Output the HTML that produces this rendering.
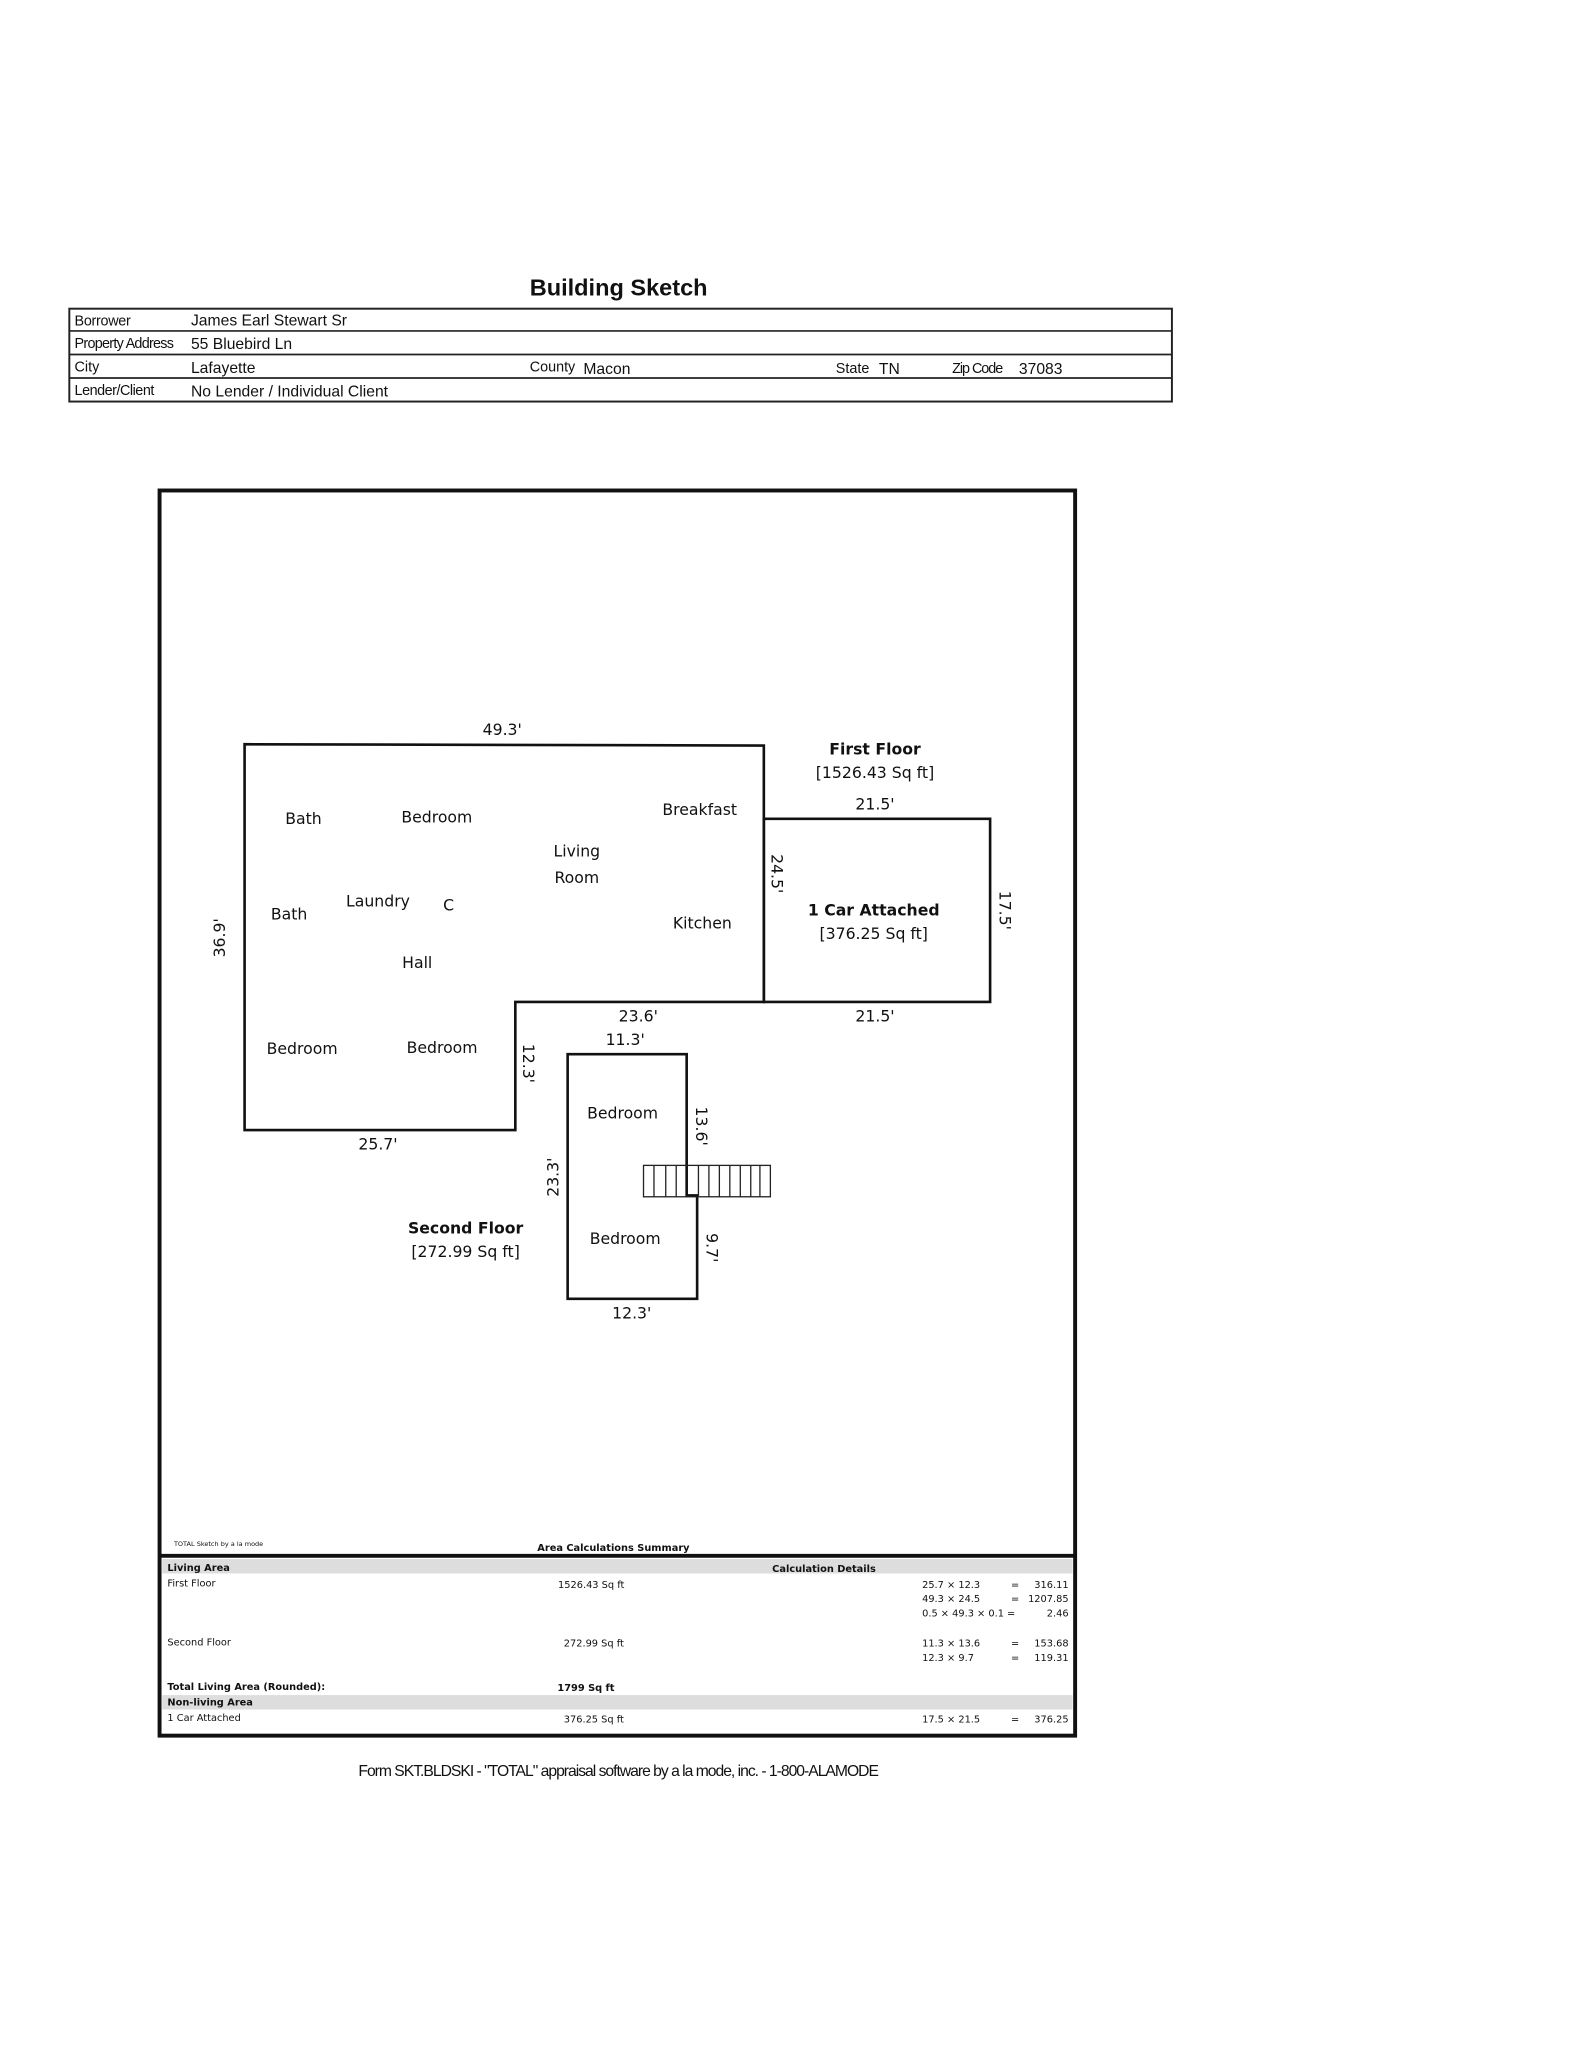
<!DOCTYPE html>
<html><head><style>html,body{margin:0;padding:0;background:#fff}svg{display:block}</style></head>
<body>
<svg width="1583" height="2048" viewBox="0 0 1210.3 1565.8" xmlns="http://www.w3.org/2000/svg">
<rect width="1210.3" height="1565.8" fill="#fff"/>
<g font-family="Liberation Sans, sans-serif" fill="#111">
<text x="473" y="226" font-size="18" font-weight="bold" text-anchor="middle">Building Sketch</text>
</g>
<g stroke="#222" fill="none">
<rect x="53" y="236" width="843" height="71" stroke-width="1.5"/>
<line x1="53" y1="253" x2="896" y2="253" stroke-width="1.3"/>
<line x1="53" y1="271" x2="896" y2="271" stroke-width="1.3"/>
<line x1="53" y1="289" x2="896" y2="289" stroke-width="1.3"/>
</g>
<g font-family="Liberation Sans, sans-serif" fill="#111" font-size="12">
<text x="57" y="249" font-size="11" textLength="43">Borrower</text>
<text x="146" y="249">James Earl Stewart Sr</text>
<text x="57" y="266" font-size="11" textLength="76">Property Address</text>
<text x="146" y="267">55 Bluebird Ln</text>
<text x="57" y="284" font-size="11">City</text>
<text x="146" y="285">Lafayette</text>
<text x="405" y="284" font-size="11">County</text>
<text x="446" y="286">Macon</text>
<text x="639" y="285" font-size="11">State</text>
<text x="672" y="286">TN</text>
<text x="728" y="285" font-size="11" textLength="39">Zip Code</text>
<text x="779" y="286">37083</text>
<text x="57" y="302" font-size="11" textLength="61">Lender/Client</text>
<text x="146" y="303">No Lender / Individual Client</text>
</g>
<rect x="122" y="375" width="700" height="952" fill="none" stroke="#111" stroke-width="3"/>
<g stroke="#111" fill="none" stroke-width="2">
<polygon points="187,569 584,570 584,766 394,766 394,864 187,864"/>
<polygon points="584,626 757,626 757,766 584,766"/>
<polygon points="434,806 525,806 525,914 533,914 533,993 434,993"/>
</g>
<g stroke="#222" stroke-width="1" fill="none">
<rect x="492" y="891" width="97" height="24"/>
<line x1="500" y1="891" x2="500" y2="915"/><line x1="509" y1="891" x2="509" y2="915"/>
<line x1="517" y1="891" x2="517" y2="915"/><line x1="534" y1="891" x2="534" y2="915"/>
<line x1="542" y1="891" x2="542" y2="915"/><line x1="550" y1="891" x2="550" y2="915"/>
<line x1="558" y1="891" x2="558" y2="915"/><line x1="566" y1="891" x2="566" y2="915"/>
<line x1="574" y1="891" x2="574" y2="915"/><line x1="581" y1="891" x2="581" y2="915"/>
</g>
<g font-family="DejaVu Sans, sans-serif" fill="#111" font-size="12" text-anchor="middle">
<text x="384" y="562">49.3'</text>
<text x="669" y="577" font-weight="bold">First Floor</text>
<text x="669" y="595">[1526.43 Sq ft]</text>
<text x="669" y="619">21.5'</text>
<text x="232" y="630">Bath</text>
<text x="334" y="629">Bedroom</text>
<text x="535" y="623">Breakfast</text>
<text x="441" y="655">Living</text>
<text x="441" y="675">Room</text>
<text x="221" y="703">Bath</text>
<text x="289" y="693">Laundry</text>
<text x="343" y="696">C</text>
<text x="537" y="710">Kitchen</text>
<text x="319" y="740">Hall</text>
<text x="668" y="700" font-weight="bold">1 Car Attached</text>
<text x="668" y="718">[376.25 Sq ft]</text>
<text x="488" y="781">23.6'</text>
<text x="669" y="781">21.5'</text>
<text x="478" y="799">11.3'</text>
<text x="231" y="806">Bedroom</text>
<text x="338" y="805">Bedroom</text>
<text x="476" y="855">Bedroom</text>
<text x="289" y="879">25.7'</text>
<text x="356" y="943" font-weight="bold">Second Floor</text>
<text x="356" y="961">[272.99 Sq ft]</text>
<text x="478" y="951">Bedroom</text>
<text x="483" y="1008">12.3'</text>
<text transform="translate(172,717) rotate(-90)">36.9'</text>
<text transform="translate(590,668) rotate(90)">24.5'</text>
<text transform="translate(764,696) rotate(90)">17.5'</text>
<text transform="translate(400,813) rotate(90)">12.3'</text>
<text transform="translate(427,900) rotate(-90)">23.3'</text>
<text transform="translate(532,861) rotate(90)">13.6'</text>
<text transform="translate(540,954) rotate(90)">9.7'</text>
</g>
<line x1="122" y1="1189.5" x2="822" y2="1189.5" stroke="#111" stroke-width="3"/>
<rect x="124" y="1192" width="696" height="11" fill="#ddd"/>
<rect x="124" y="1296" width="696" height="11" fill="#ddd"/>
<g font-family="DejaVu Sans, sans-serif" fill="#111" font-size="7.5">
<text x="133" y="1182" font-size="5">TOTAL Sketch by a la mode</text>
<text x="469" y="1186" text-anchor="middle" font-weight="bold">Area Calculations Summary</text>
<text x="128" y="1201" font-weight="bold">Living Area</text>
<text x="630" y="1202" text-anchor="middle" font-weight="bold">Calculation Details</text>
<text x="128" y="1213">First Floor</text>
<text x="452" y="1214" text-anchor="middle">1526.43 Sq ft</text>
<text x="705" y="1214">25.7 × 12.3</text><text x="773" y="1214">=</text><text x="817" y="1214" text-anchor="end">316.11</text>
<text x="705" y="1225">49.3 × 24.5</text><text x="773" y="1225">=</text><text x="817" y="1225" text-anchor="end">1207.85</text>
<text x="705" y="1236">0.5 × 49.3 × 0.1 =</text><text x="817" y="1236" text-anchor="end">2.46</text>
<text x="128" y="1258">Second Floor</text>
<text x="454" y="1259" text-anchor="middle">272.99 Sq ft</text>
<text x="705" y="1259">11.3 × 13.6</text><text x="773" y="1259">=</text><text x="817" y="1259" text-anchor="end">153.68</text>
<text x="705" y="1270">12.3 × 9.7</text><text x="773" y="1270">=</text><text x="817" y="1270" text-anchor="end">119.31</text>
<text x="128" y="1292" font-weight="bold">Total Living Area (Rounded):</text>
<text x="448" y="1293" text-anchor="middle" font-weight="bold">1799 Sq ft</text>
<text x="128" y="1304" font-weight="bold">Non-living Area</text>
<text x="128" y="1316">1 Car Attached</text>
<text x="454" y="1317" text-anchor="middle">376.25 Sq ft</text>
<text x="705" y="1317">17.5 × 21.5</text><text x="773" y="1317">=</text><text x="817" y="1317" text-anchor="end">376.25</text>
</g>
<text x="473" y="1358" font-family="Liberation Sans, sans-serif" font-size="12" fill="#111" text-anchor="middle" textLength="398">Form SKT.BLDSKI - "TOTAL" appraisal software by a la mode, inc. - 1-800-ALAMODE</text>
</svg>
</body></html>
